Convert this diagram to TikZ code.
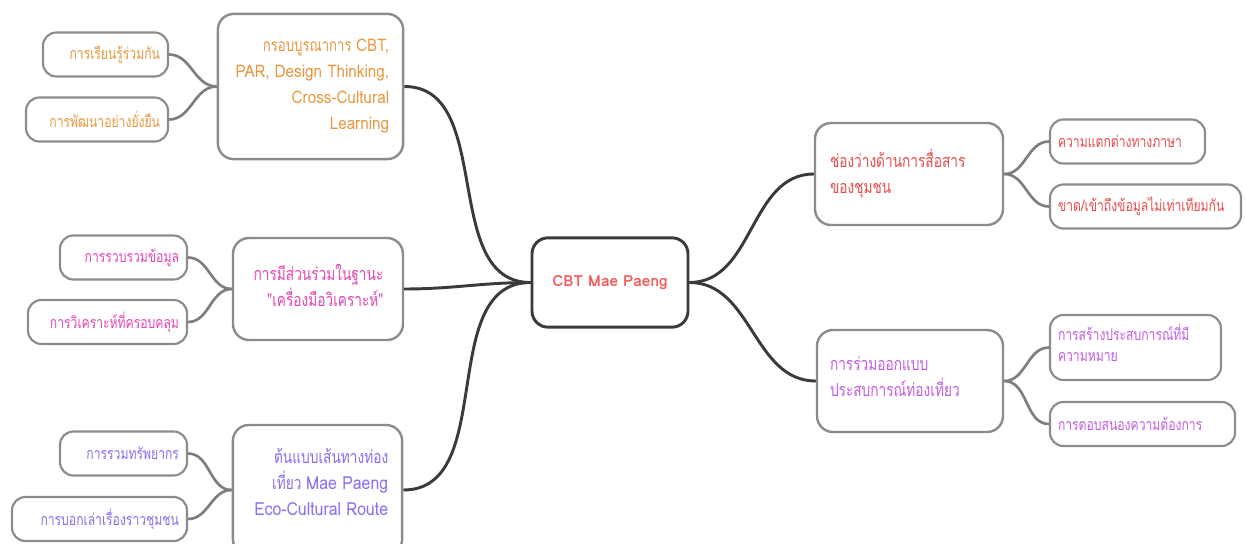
\documentclass[tikz,border=0pt]{standalone}
\usepackage{fontspec}
\usetikzlibrary{positioning}
\newfontfamily\thaifont[Script=Thai,FakeStretch=0.76]{Loma}
\newfontfamily\latfont[FakeStretch=0.88]{Loma}
\newfontfamily\hubfont{Loma}
\newcommand{\lw}[1]{{\latfont #1}}
\definecolor{linedark}{HTML}{3A3A3A}
\definecolor{boxgray}{HTML}{8C8C8C}
\definecolor{hubred}{HTML}{F25C5C}
\definecolor{frameorange}{HTML}{E8973F}
\definecolor{partpink}{HTML}{E346B6}
\definecolor{routeblue}{HTML}{8C6CF0}
\definecolor{gapred}{HTML}{E84C4C}
\definecolor{codesignviolet}{HTML}{C25CE6}
\tikzset{
  hub/.style={draw=linedark, line width=2.2pt, rounded corners=12pt, fill=white,
    font=\hubfont\bfseries\fontsize{11.5}{15}\selectfont, text=hubred},
  topic/.style={draw=boxgray, line width=1.8pt, rounded corners=12pt, fill=white,
    font=\thaifont\fontsize{13.5}{19.5}\selectfont},
  leaf/.style={draw=boxgray, line width=1.6pt, rounded corners=10pt, fill=white,
    minimum height=33pt, inner xsep=6pt, font=\thaifont\fontsize{12}{16}\selectfont},
  lift/.style={execute at end node={\rule[-#1]{0pt}{0pt}}},
  trunk/.style={draw=linedark, line width=2.2pt},
  twig/.style={draw=boxgray!90!black, line width=2pt}
}
\begin{document}
\begin{tikzpicture}[x=0.75pt,y=-0.75pt]
  \useasboundingbox (0,0) rectangle (1245,543);

  % hub
  \node[hub, minimum width=117pt, minimum height=67pt] (cbt) at (610,282.5) {CBT Mae Paeng};

  % left topics
  \node[topic, text=frameorange, minimum width=139pt, minimum height=109pt, text width=118pt, align=flush right,
    font=\thaifont\fontsize{13}{19.5}\selectfont]
    (frame) at (310.5,86.5) {กรอบบูรณาการ \lw{CBT,}\\\lw{PAR, Design Thinking,}\\\lw{Cross-Cultural}\\\lw{Learning}};
  \node[topic, text=partpink, minimum width=127.5pt, minimum height=76.5pt, text width=98pt, align=flush right, lift=6pt]
    (part) at (318,289) {การมีส่วนร่วมในฐานะ\\"เครื่องมือวิเคราะห์"};
  \node[topic, text=routeblue, minimum width=127pt, minimum height=97.5pt, text width=106pt, align=flush right, lift=12pt]
    (route) at (317.5,490) {ต้นแบบเส้นทางท่อง\\เที่ยว \lw{Mae Paeng}\\\lw{Eco-Cultural Route}};

  % right topics
  \node[topic, text=gapred, minimum width=141pt, minimum height=76.5pt, text width=118.5pt, align=flush left, lift=4pt]
    (gap) at (909,174) {ช่องว่างด้านการสื่อสาร\\ของชุมชน};
  \node[topic, text=codesignviolet, minimum width=139.5pt, minimum height=76.5pt, text width=120pt, align=flush left, lift=7pt]
    (codesign) at (910,381) {การร่วมออกแบบ\\ประสบการณ์ท่องเที่ยว};

  % leaves
  \node[leaf, text=frameorange, text width=81.75pt, align=flush right] (learn) at (105.5,54.5) {การเรียนรู้ร่วมกัน};
  \node[leaf, text=frameorange, text width=94.5pt, align=flush right] (sustain) at (97,119.5) {การพัฒนาอย่างยั่งยืน};
  \node[leaf, text=partpink, text width=83.25pt, align=flush right] (collect) at (123.5,257.5) {การรวบรวมข้อมูล};
  \node[leaf, text=partpink, text width=107.25pt, align=flush right] (analyse) at (107.5,322) {การวิเคราะห์ที่ครอบคลุม};
  \node[leaf, text=routeblue, text width=83.25pt, align=flush right] (pool) at (123.5,453.5) {การรวมทรัพยากร};
  \node[leaf, text=routeblue, text width=119.25pt, align=flush right] (story) at (99.5,519) {การบอกเล่าเรื่องราวชุมชน};
  \node[leaf, text=gapred, text width=104.25pt, align=flush left] (lang) at (1127.5,141.5) {ความแตกต่างทางภาษา};
  \node[leaf, text=gapred, text width=131.25pt, align=flush left] (access) at (1145.5,206.5) {ขาด/เข้าถึงข้อมูลไม่เท่าเทียมกัน};
  \node[leaf, text=codesignviolet, text width=116.25pt, align=flush left, minimum height=48.75pt, lift=7pt]
    (meaning) at (1135.5,347.5) {การสร้างประสบการณ์ที่มี\\ความหมาย};
  \node[leaf, text=codesignviolet, text width=126.75pt, align=flush left] (respond) at (1142.5,424) {การตอบสนองความต้องการ};

  % trunks
  \draw[trunk] (cbt.west) to[out=180,in=0] (frame.east);
  \draw[trunk] (cbt.west) to[out=180,in=0] (part.east);
  \draw[trunk] (cbt.west) to[out=180,in=0] (route.east);
  \draw[trunk] (cbt.east) to[out=0,in=180] (gap.west);
  \draw[trunk] (cbt.east) to[out=0,in=180] (codesign.west);

  % twigs
  \foreach \t/\l in {frame/learn, frame/sustain, part/collect, part/analyse, route/pool, route/story}
    \draw[twig] (\t.west) to[out=180,in=0] (\l.east);
  \foreach \t/\l in {gap/lang, gap/access, codesign/meaning, codesign/respond}
    \draw[twig] (\t.east) to[out=0,in=180] (\l.west);
\end{tikzpicture}
\end{document}
